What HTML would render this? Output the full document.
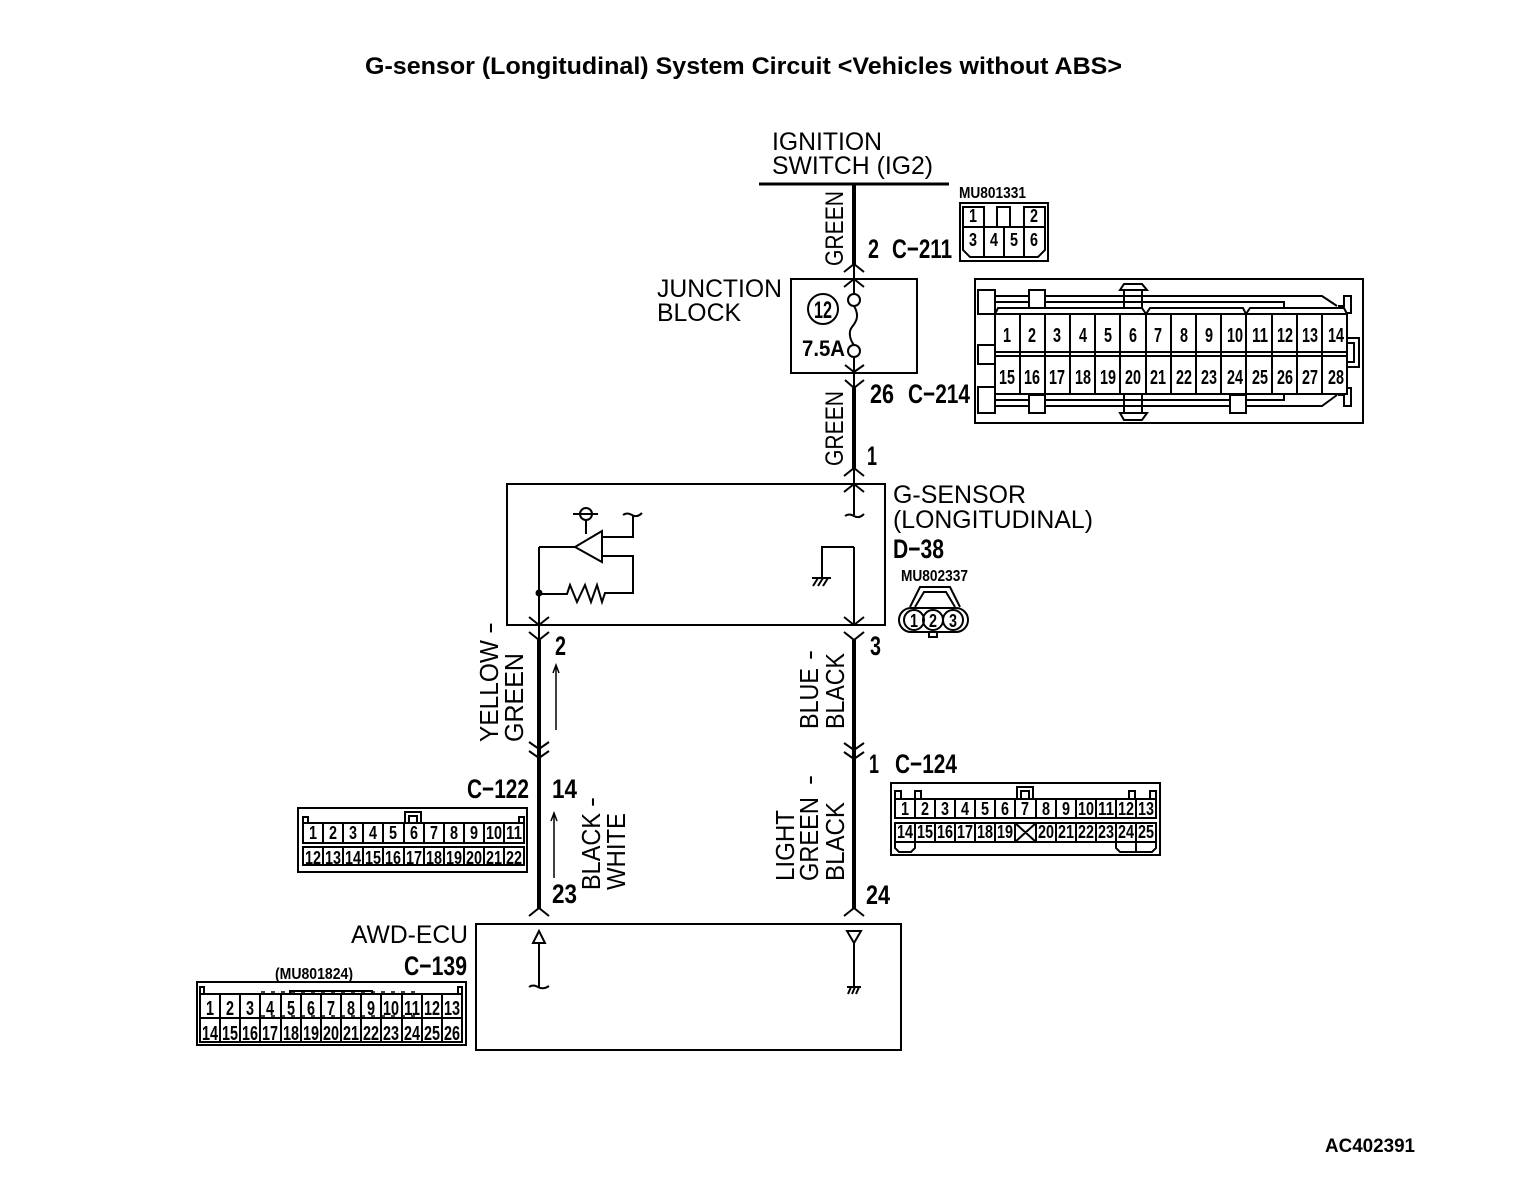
<!DOCTYPE html>
<html><head><meta charset="utf-8"><style>
html,body{margin:0;padding:0;background:#fff}
svg{display:block}
text{fill:#000;font-family:"Liberation Sans",sans-serif}
.l{font-size:25px}
.r{font-size:26px}
.b{font-size:27px;font-weight:bold}
.s{font-size:16px;font-weight:bold}
.c{font-size:18px;font-weight:bold;text-anchor:middle}
.d{font-size:20px;font-weight:bold;text-anchor:middle}
.g{fill:none;stroke:#000;stroke-width:2}
.t{fill:none;stroke:#000;stroke-width:1.5}
.w{fill:none;stroke:#000;stroke-width:4}
</style></head><body>
<svg width="1520" height="1182" viewBox="0 0 1520 1182" xmlns="http://www.w3.org/2000/svg">
<rect width="1520" height="1182" fill="#fff"/>
<text x="365" y="74" font-size="24" font-weight="bold" textLength="757" lengthAdjust="spacingAndGlyphs">G-sensor (Longitudinal) System Circuit &lt;Vehicles without ABS&gt;</text>
<text x="1325" y="1152" font-size="19" font-weight="bold" textLength="90" lengthAdjust="spacingAndGlyphs">AC402391</text>

<!-- top bar and main wires -->
<path d="M759 184H949" fill="none" stroke="#000" stroke-width="3"/>
<path class="w" d="M854 184V265M854 388V468M539 640V909M854 640V909"/>
<path class="g" d="M854 265V300M854 351V388M854 468V515M845 516q4-3 9 0t10-2M854 547V625M539 547V640"/>
<!-- chevrons -->
<path class="g" d="M844 272L854 264L864 272M844 287L854 279L864 287M845 365L854 372L864 365M845 380L854 388L864 380M844 476L854 468L864 476M844 492L854 484L864 492M529 617L539 625L549 617M529 632L539 640L549 632M844 617L854 625L864 617M844 632L854 640L864 632M529 742L539 749L549 742M529 751L539 758L549 751M844 743L854 750L864 743M844 752L854 759L864 752M529 916L539 908L549 916M844 916L854 908L864 916"/>

<!-- ignition labels -->
<text class="l" x="772" y="150" textLength="110" lengthAdjust="spacingAndGlyphs">IGNITION</text>
<text class="l" x="772" y="174" textLength="161" lengthAdjust="spacingAndGlyphs">SWITCH (IG2)</text>
<text class="l" transform="translate(843 266) rotate(-90)" textLength="75" lengthAdjust="spacingAndGlyphs">GREEN</text>
<text class="l" transform="translate(843 466) rotate(-90)" textLength="75" lengthAdjust="spacingAndGlyphs">GREEN</text>
<text class="b" x="868" y="258" textLength="11" lengthAdjust="spacingAndGlyphs">2</text>
<text class="b" x="892" y="258" textLength="60" lengthAdjust="spacingAndGlyphs">C−211</text>
<text class="b" x="870" y="403" textLength="24" lengthAdjust="spacingAndGlyphs">26</text>
<text class="b" x="908" y="403" textLength="62" lengthAdjust="spacingAndGlyphs">C−214</text>
<text class="b" x="867" y="465" textLength="10" lengthAdjust="spacingAndGlyphs">1</text>

<!-- junction block -->
<rect class="g" x="791" y="279" width="126" height="94"/>
<text class="l" x="657" y="297" textLength="125" lengthAdjust="spacingAndGlyphs">JUNCTION</text>
<text class="l" x="657" y="321" textLength="84" lengthAdjust="spacingAndGlyphs">BLOCK</text>
<circle class="g" cx="823" cy="309" r="15"/>
<text x="823" y="318" font-size="24" font-weight="bold" text-anchor="middle" textLength="18" lengthAdjust="spacingAndGlyphs">12</text>
<text x="802" y="356" font-size="22" font-weight="bold" textLength="43" lengthAdjust="spacingAndGlyphs">7.5A</text>
<circle class="g" cx="854" cy="300" r="6" style="fill:#fff"/>
<circle class="g" cx="854" cy="351" r="6" style="fill:#fff"/>
<path class="g" d="M854 306C860 316 856 322 852 327C848 332 850 340 854 345"/>

<!-- C-211 connector -->
<text class="s" x="959" y="198" textLength="67" lengthAdjust="spacingAndGlyphs">MU801331</text>
<rect class="g" x="960" y="203" width="88" height="58"/>
<path class="g" d="M963 227V207H984V227M963 227H1045M1024 227V207H1045V227M997 227V207H1010V227M963 227V250L970 257H1038L1045 250V227M984 227V257M1004 227V257M1024 227V257"/>
<text class="c" x="973" y="222" textLength="8" lengthAdjust="spacingAndGlyphs">1</text>
<text class="c" x="1034" y="222" textLength="8" lengthAdjust="spacingAndGlyphs">2</text>
<text class="c" x="973" y="246" textLength="8" lengthAdjust="spacingAndGlyphs">3</text>
<text class="c" x="994" y="246" textLength="8" lengthAdjust="spacingAndGlyphs">4</text>
<text class="c" x="1014" y="246" textLength="8" lengthAdjust="spacingAndGlyphs">5</text>
<text class="c" x="1034" y="246" textLength="8" lengthAdjust="spacingAndGlyphs">6</text>

<!-- C-214 connector -->
<rect class="g" x="975" y="279" width="388" height="144"/>
<path class="g" d="M995 296H1322L1337 306M995 302H1284V308M995 400H1284V394M995 406H1322L1337 395"/>
<path class="g" d="M995 314L998 308H1142L1146 314L1150 308H1243L1246 314L1250 308H1344L1347 314"/>
<path class="g" style="fill:#fff" d="M978 290H995V314H978Z M978 345H995V364H978Z M978 387H995V413H978Z M1029 290H1045V308H1029Z M1029 395H1045V413H1029Z M1230 395H1246V413H1230Z"/>
<path class="g" d="M1338 306L1344 306V296H1351V313H1347M1338 395H1344V406H1351V388H1347M1347 338H1359V367H1347M1347 343H1354V362H1347"/>
<path class="g" d="M1124 308V291M1142 308V291M1120 290L1124 284H1142L1147 290ZM1124 394V412M1142 394V412M1120 413L1124 420H1142L1147 413Z"/>
<path class="g" style="fill:#fff" d="M995 314H1347V394H995Z"/>
<path class="g" d="M995 352H1347M995 356H1347M1020 314V394M1045 314V394M1070 314V394M1095 314V394M1120 314V394M1146 314V394M1171 314V394M1196 314V394M1221 314V394M1246 314V394M1272 314V394M1297 314V394M1322 314V394"/>
<text class="d" x="1007" y="342" textLength="8" lengthAdjust="spacingAndGlyphs">1</text>
<text class="d" x="1032" y="342" textLength="8" lengthAdjust="spacingAndGlyphs">2</text>
<text class="d" x="1057" y="342" textLength="8" lengthAdjust="spacingAndGlyphs">3</text>
<text class="d" x="1083" y="342" textLength="8" lengthAdjust="spacingAndGlyphs">4</text>
<text class="d" x="1108" y="342" textLength="8" lengthAdjust="spacingAndGlyphs">5</text>
<text class="d" x="1133" y="342" textLength="8" lengthAdjust="spacingAndGlyphs">6</text>
<text class="d" x="1158" y="342" textLength="8" lengthAdjust="spacingAndGlyphs">7</text>
<text class="d" x="1184" y="342" textLength="8" lengthAdjust="spacingAndGlyphs">8</text>
<text class="d" x="1209" y="342" textLength="8" lengthAdjust="spacingAndGlyphs">9</text>
<text class="d" x="1235" y="342" textLength="16" lengthAdjust="spacingAndGlyphs">10</text>
<text class="d" x="1260" y="342" textLength="16" lengthAdjust="spacingAndGlyphs">11</text>
<text class="d" x="1285" y="342" textLength="16" lengthAdjust="spacingAndGlyphs">12</text>
<text class="d" x="1310" y="342" textLength="16" lengthAdjust="spacingAndGlyphs">13</text>
<text class="d" x="1336" y="342" textLength="16" lengthAdjust="spacingAndGlyphs">14</text>
<text class="d" x="1007" y="384" textLength="16" lengthAdjust="spacingAndGlyphs">15</text>
<text class="d" x="1032" y="384" textLength="16" lengthAdjust="spacingAndGlyphs">16</text>
<text class="d" x="1057" y="384" textLength="16" lengthAdjust="spacingAndGlyphs">17</text>
<text class="d" x="1083" y="384" textLength="16" lengthAdjust="spacingAndGlyphs">18</text>
<text class="d" x="1108" y="384" textLength="16" lengthAdjust="spacingAndGlyphs">19</text>
<text class="d" x="1133" y="384" textLength="16" lengthAdjust="spacingAndGlyphs">20</text>
<text class="d" x="1158" y="384" textLength="16" lengthAdjust="spacingAndGlyphs">21</text>
<text class="d" x="1184" y="384" textLength="16" lengthAdjust="spacingAndGlyphs">22</text>
<text class="d" x="1209" y="384" textLength="16" lengthAdjust="spacingAndGlyphs">23</text>
<text class="d" x="1235" y="384" textLength="16" lengthAdjust="spacingAndGlyphs">24</text>
<text class="d" x="1260" y="384" textLength="16" lengthAdjust="spacingAndGlyphs">25</text>
<text class="d" x="1285" y="384" textLength="16" lengthAdjust="spacingAndGlyphs">26</text>
<text class="d" x="1310" y="384" textLength="16" lengthAdjust="spacingAndGlyphs">27</text>
<text class="d" x="1336" y="384" textLength="16" lengthAdjust="spacingAndGlyphs">28</text>

<!-- G-sensor box -->
<rect class="g" x="507" y="484" width="378" height="141"/>
<text class="l" x="893" y="503" textLength="133" lengthAdjust="spacingAndGlyphs">G-SENSOR</text>
<text class="l" x="893" y="528" textLength="200" lengthAdjust="spacingAndGlyphs">(LONGITUDINAL)</text>
<text class="b" x="893" y="558" textLength="51" lengthAdjust="spacingAndGlyphs">D−38</text>
<text class="s" x="901" y="581" textLength="67" lengthAdjust="spacingAndGlyphs">MU802337</text>
<path class="g" d="M575 547L602 531V562ZM575 547H539M602 537H633V515M623 515q4-3 9 0t10-2M602 556H633V593H605L602 602L597 585L591 602L585 585L577 602L570 585L567 594H539M573 514H598M586 520V534M854 547H822V578M812 578H831M813 586L818 578M818 586L823 578M823 586L828 578"/>
<circle class="g" cx="586" cy="514" r="6"/>
<circle cx="539" cy="593" r="3.5" fill="#000"/>
<rect class="g" x="899" y="608" width="69" height="24" rx="12"/>
<path class="g" d="M910 607L920 587H950L960 607M915 607L924 592H946L955 607M929 632V637H937V632"/>
<circle class="g" cx="914" cy="620" r="10"/><circle class="g" cx="933" cy="620" r="10"/><circle class="g" cx="953" cy="620" r="10"/>
<text x="914" y="627" font-size="18" font-weight="bold" text-anchor="middle" textLength="8" lengthAdjust="spacingAndGlyphs">1</text>
<text x="933" y="627" font-size="18" font-weight="bold" text-anchor="middle" textLength="8" lengthAdjust="spacingAndGlyphs">2</text>
<text x="953" y="627" font-size="18" font-weight="bold" text-anchor="middle" textLength="8" lengthAdjust="spacingAndGlyphs">3</text>

<!-- middle labels -->
<text class="b" x="555" y="655" textLength="11" lengthAdjust="spacingAndGlyphs">2</text>
<text class="b" x="870" y="655" textLength="11" lengthAdjust="spacingAndGlyphs">3</text>
<text class="r" transform="translate(498 742) rotate(-90)" textLength="102" lengthAdjust="spacingAndGlyphs">YELLOW</text>
<text class="r" transform="translate(498 634) rotate(-90)" textLength="12" lengthAdjust="spacingAndGlyphs">-</text>
<text class="r" transform="translate(523 742) rotate(-90)" textLength="89" lengthAdjust="spacingAndGlyphs">GREEN</text>
<text class="r" transform="translate(818 729) rotate(-90)" textLength="61" lengthAdjust="spacingAndGlyphs">BLUE</text>
<text class="r" transform="translate(818 660) rotate(-90)" textLength="10" lengthAdjust="spacingAndGlyphs">-</text>
<text class="r" transform="translate(844 729) rotate(-90)" textLength="76" lengthAdjust="spacingAndGlyphs">BLACK</text>
<path class="t" d="M556 665V730M553 673L556 665L559 673M554 813V878M551 821L554 813L557 821"/>

<text class="b" x="467" y="798" textLength="62" lengthAdjust="spacingAndGlyphs">C−122</text>
<text class="b" x="552" y="798" textLength="25" lengthAdjust="spacingAndGlyphs">14</text>
<text class="b" x="552" y="903" textLength="25" lengthAdjust="spacingAndGlyphs">23</text>
<text class="r" transform="translate(600 890) rotate(-90)" textLength="77" lengthAdjust="spacingAndGlyphs">BLACK</text>
<text class="r" transform="translate(600 807) rotate(-90)" textLength="10" lengthAdjust="spacingAndGlyphs">-</text>
<text class="r" transform="translate(625 890) rotate(-90)" textLength="77" lengthAdjust="spacingAndGlyphs">WHITE</text>
<text class="r" transform="translate(794 881) rotate(-90)" textLength="71" lengthAdjust="spacingAndGlyphs">LIGHT</text>
<text class="r" transform="translate(818 881) rotate(-90)" textLength="84" lengthAdjust="spacingAndGlyphs">GREEN</text>
<text class="r" transform="translate(818 785) rotate(-90)" textLength="10" lengthAdjust="spacingAndGlyphs">-</text>
<text class="r" transform="translate(844 881) rotate(-90)" textLength="79" lengthAdjust="spacingAndGlyphs">BLACK</text>
<text class="b" x="869" y="773" textLength="10" lengthAdjust="spacingAndGlyphs">1</text>
<text class="b" x="895" y="773" textLength="62" lengthAdjust="spacingAndGlyphs">C−124</text>
<text class="b" x="866" y="904" textLength="24" lengthAdjust="spacingAndGlyphs">24</text>

<!-- C-122 connector -->
<rect class="g" x="298" y="808" width="229" height="64"/>
<path class="g" d="M303 823H524V843H303ZM303 847H524V865H303ZM323 823V843M343 823V843M363 823V843M383 823V843M404 823V843M424 823V843M444 823V843M464 823V843M484 823V843M504 823V843M323 847V865M343 847V865M363 847V865M383 847V865M404 847V865M424 847V865M444 847V865M464 847V865M484 847V865M504 847V865M405 823V812H421V823M409 823V816H417V823M303 823V817H308V823M519 823V817H524V823"/>
<text class="c" x="313" y="839" textLength="8" lengthAdjust="spacingAndGlyphs">1</text>
<text class="c" x="333" y="839" textLength="8" lengthAdjust="spacingAndGlyphs">2</text>
<text class="c" x="353" y="839" textLength="8" lengthAdjust="spacingAndGlyphs">3</text>
<text class="c" x="373" y="839" textLength="8" lengthAdjust="spacingAndGlyphs">4</text>
<text class="c" x="393" y="839" textLength="8" lengthAdjust="spacingAndGlyphs">5</text>
<text class="c" x="414" y="839" textLength="8" lengthAdjust="spacingAndGlyphs">6</text>
<text class="c" x="434" y="839" textLength="8" lengthAdjust="spacingAndGlyphs">7</text>
<text class="c" x="454" y="839" textLength="8" lengthAdjust="spacingAndGlyphs">8</text>
<text class="c" x="474" y="839" textLength="8" lengthAdjust="spacingAndGlyphs">9</text>
<text class="c" x="494" y="839" textLength="16" lengthAdjust="spacingAndGlyphs">10</text>
<text class="c" x="514" y="839" textLength="16" lengthAdjust="spacingAndGlyphs">11</text>
<text class="c" x="313" y="864" textLength="16" lengthAdjust="spacingAndGlyphs">12</text>
<text class="c" x="333" y="864" textLength="16" lengthAdjust="spacingAndGlyphs">13</text>
<text class="c" x="353" y="864" textLength="16" lengthAdjust="spacingAndGlyphs">14</text>
<text class="c" x="373" y="864" textLength="16" lengthAdjust="spacingAndGlyphs">15</text>
<text class="c" x="393" y="864" textLength="16" lengthAdjust="spacingAndGlyphs">16</text>
<text class="c" x="414" y="864" textLength="16" lengthAdjust="spacingAndGlyphs">17</text>
<text class="c" x="434" y="864" textLength="16" lengthAdjust="spacingAndGlyphs">18</text>
<text class="c" x="454" y="864" textLength="16" lengthAdjust="spacingAndGlyphs">19</text>
<text class="c" x="474" y="864" textLength="16" lengthAdjust="spacingAndGlyphs">20</text>
<text class="c" x="494" y="864" textLength="16" lengthAdjust="spacingAndGlyphs">21</text>
<text class="c" x="514" y="864" textLength="16" lengthAdjust="spacingAndGlyphs">22</text>

<!-- C-124 connector -->
<rect class="g" x="891" y="783" width="269" height="72"/>
<path class="g" d="M895 799H1156V818H895ZM895 823H1156V842H895ZM915 799V818M935 799V818M955 799V818M975 799V818M995 799V818M1015 799V818M1036 799V818M1056 799V818M1076 799V818M1096 799V818M1116 799V818M1136 799V818M915 823V842M935 823V842M955 823V842M975 823V842M995 823V842M1015 823V842M1036 823V842M1056 823V842M1076 823V842M1096 823V842M1116 823V842M1136 823V842M1015 823L1036 842M1036 823L1015 842M1017 799V787H1033V799M1021 799V791H1029V799M895 799V791H901V799M915 799V791H921V799M1129 799V791H1135V799M1150 799V791H1156V799M895 842V848L899 852H911L915 848V842M1116 842V848L1120 852H1152L1156 848V842M1136 842V852"/>
<text class="c" x="905" y="815" textLength="8" lengthAdjust="spacingAndGlyphs">1</text>
<text class="c" x="925" y="815" textLength="8" lengthAdjust="spacingAndGlyphs">2</text>
<text class="c" x="945" y="815" textLength="8" lengthAdjust="spacingAndGlyphs">3</text>
<text class="c" x="965" y="815" textLength="8" lengthAdjust="spacingAndGlyphs">4</text>
<text class="c" x="985" y="815" textLength="8" lengthAdjust="spacingAndGlyphs">5</text>
<text class="c" x="1005" y="815" textLength="8" lengthAdjust="spacingAndGlyphs">6</text>
<text class="c" x="1025" y="815" textLength="8" lengthAdjust="spacingAndGlyphs">7</text>
<text class="c" x="1046" y="815" textLength="8" lengthAdjust="spacingAndGlyphs">8</text>
<text class="c" x="1066" y="815" textLength="8" lengthAdjust="spacingAndGlyphs">9</text>
<text class="c" x="1086" y="815" textLength="16" lengthAdjust="spacingAndGlyphs">10</text>
<text class="c" x="1106" y="815" textLength="16" lengthAdjust="spacingAndGlyphs">11</text>
<text class="c" x="1126" y="815" textLength="16" lengthAdjust="spacingAndGlyphs">12</text>
<text class="c" x="1146" y="815" textLength="16" lengthAdjust="spacingAndGlyphs">13</text>
<text class="c" x="905" y="838" textLength="16" lengthAdjust="spacingAndGlyphs">14</text>
<text class="c" x="925" y="838" textLength="16" lengthAdjust="spacingAndGlyphs">15</text>
<text class="c" x="945" y="838" textLength="16" lengthAdjust="spacingAndGlyphs">16</text>
<text class="c" x="965" y="838" textLength="16" lengthAdjust="spacingAndGlyphs">17</text>
<text class="c" x="985" y="838" textLength="16" lengthAdjust="spacingAndGlyphs">18</text>
<text class="c" x="1005" y="838" textLength="16" lengthAdjust="spacingAndGlyphs">19</text>
<text class="c" x="1046" y="838" textLength="16" lengthAdjust="spacingAndGlyphs">20</text>
<text class="c" x="1066" y="838" textLength="16" lengthAdjust="spacingAndGlyphs">21</text>
<text class="c" x="1086" y="838" textLength="16" lengthAdjust="spacingAndGlyphs">22</text>
<text class="c" x="1106" y="838" textLength="16" lengthAdjust="spacingAndGlyphs">23</text>
<text class="c" x="1126" y="838" textLength="16" lengthAdjust="spacingAndGlyphs">24</text>
<text class="c" x="1146" y="838" textLength="16" lengthAdjust="spacingAndGlyphs">25</text>

<!-- AWD-ECU -->
<rect class="g" x="476" y="924" width="425" height="126"/>
<text class="l" x="351" y="943" textLength="117" lengthAdjust="spacingAndGlyphs">AWD-ECU</text>
<text class="b" x="404" y="975" textLength="63" lengthAdjust="spacingAndGlyphs">C−139</text>
<text class="s" x="275" y="979" textLength="78" lengthAdjust="spacingAndGlyphs">(MU801824)</text>
<path class="g" d="M539 931L533 943H545ZM539 943V987M529 987q4-3 9 0t11-1M847 931H861L854 943ZM854 943V987M847 987H861M848 994L851 987M852 994L855 987M856 994L859 987"/>

<!-- C-139 connector -->
<rect class="g" x="197" y="982" width="269" height="63"/>
<path class="g" d="M200 994H462V1042H200ZM200 1018H462M220 994V1042M240 994V1042M260 994V1042M281 994V1042M301 994V1042M321 994V1042M341 994V1042M361 994V1042M381 994V1042M402 994V1042M422 994V1042M442 994V1042M290 994V991H372V994M200 994V987H204V994M458 994V987H462V994"/>
<path d="M261 992H421M261 1016H421" fill="none" stroke="#000" stroke-width="1.5" stroke-dasharray="4 6"/>
<text class="d" x="210" y="1015" textLength="8" lengthAdjust="spacingAndGlyphs">1</text>
<text class="d" x="230" y="1015" textLength="8" lengthAdjust="spacingAndGlyphs">2</text>
<text class="d" x="250" y="1015" textLength="8" lengthAdjust="spacingAndGlyphs">3</text>
<text class="d" x="270" y="1015" textLength="8" lengthAdjust="spacingAndGlyphs">4</text>
<text class="d" x="291" y="1015" textLength="8" lengthAdjust="spacingAndGlyphs">5</text>
<text class="d" x="311" y="1015" textLength="8" lengthAdjust="spacingAndGlyphs">6</text>
<text class="d" x="331" y="1015" textLength="8" lengthAdjust="spacingAndGlyphs">7</text>
<text class="d" x="351" y="1015" textLength="8" lengthAdjust="spacingAndGlyphs">8</text>
<text class="d" x="371" y="1015" textLength="8" lengthAdjust="spacingAndGlyphs">9</text>
<text class="d" x="391" y="1015" textLength="16" lengthAdjust="spacingAndGlyphs">10</text>
<text class="d" x="412" y="1015" textLength="16" lengthAdjust="spacingAndGlyphs">11</text>
<text class="d" x="432" y="1015" textLength="16" lengthAdjust="spacingAndGlyphs">12</text>
<text class="d" x="452" y="1015" textLength="16" lengthAdjust="spacingAndGlyphs">13</text>
<text class="d" x="210" y="1040" textLength="16" lengthAdjust="spacingAndGlyphs">14</text>
<text class="d" x="230" y="1040" textLength="16" lengthAdjust="spacingAndGlyphs">15</text>
<text class="d" x="250" y="1040" textLength="16" lengthAdjust="spacingAndGlyphs">16</text>
<text class="d" x="270" y="1040" textLength="16" lengthAdjust="spacingAndGlyphs">17</text>
<text class="d" x="291" y="1040" textLength="16" lengthAdjust="spacingAndGlyphs">18</text>
<text class="d" x="311" y="1040" textLength="16" lengthAdjust="spacingAndGlyphs">19</text>
<text class="d" x="331" y="1040" textLength="16" lengthAdjust="spacingAndGlyphs">20</text>
<text class="d" x="351" y="1040" textLength="16" lengthAdjust="spacingAndGlyphs">21</text>
<text class="d" x="371" y="1040" textLength="16" lengthAdjust="spacingAndGlyphs">22</text>
<text class="d" x="391" y="1040" textLength="16" lengthAdjust="spacingAndGlyphs">23</text>
<text class="d" x="412" y="1040" textLength="16" lengthAdjust="spacingAndGlyphs">24</text>
<text class="d" x="432" y="1040" textLength="16" lengthAdjust="spacingAndGlyphs">25</text>
<text class="d" x="452" y="1040" textLength="16" lengthAdjust="spacingAndGlyphs">26</text>
</svg>
</body></html>
